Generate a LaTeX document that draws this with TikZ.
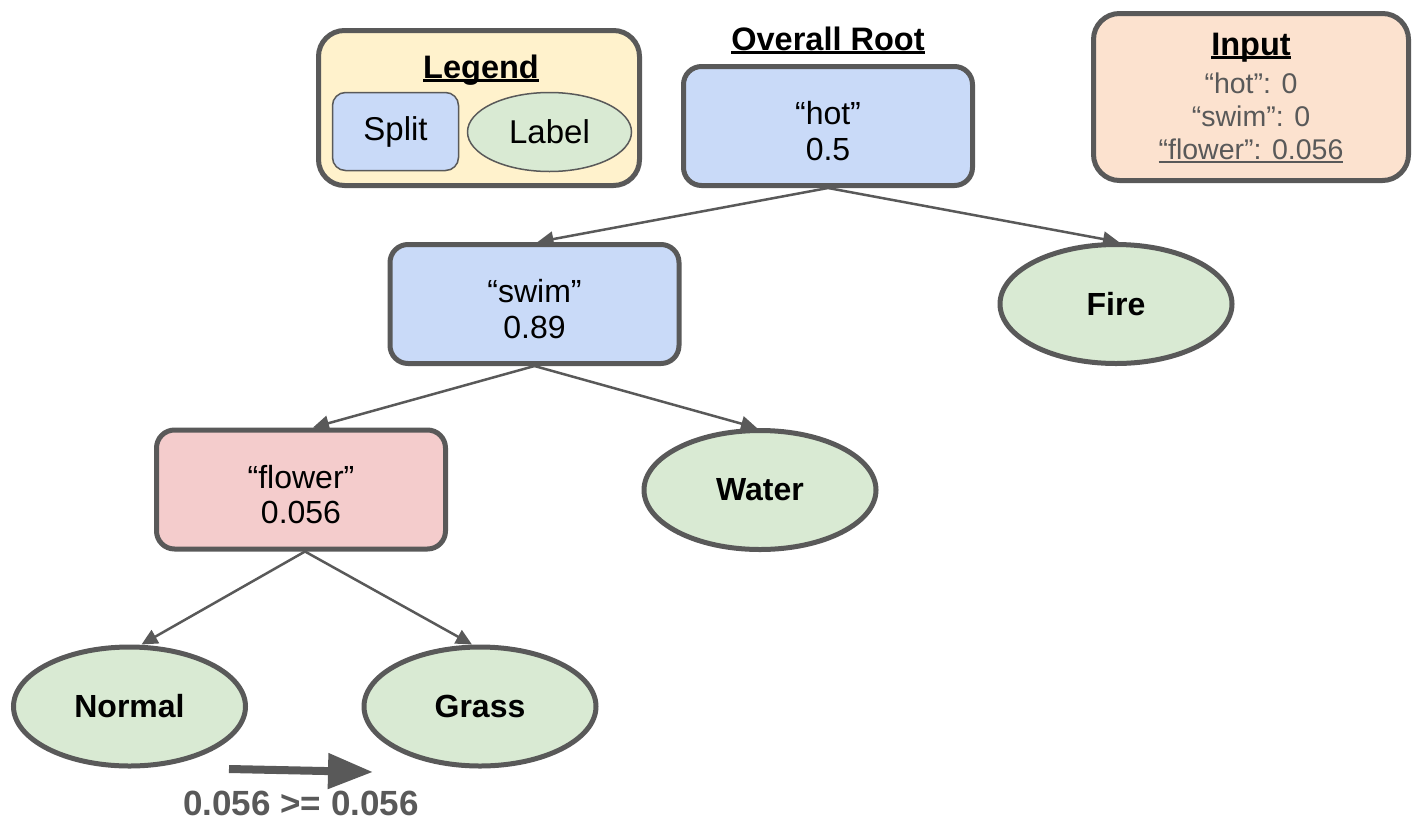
\documentclass[tikz,border=0pt]{standalone}
\usepackage{fontspec}
\setmainfont{Liberation Sans}
\usetikzlibrary{shapes.geometric,arrows.meta}
\definecolor{bd}{HTML}{595959}
\definecolor{splitblue}{HTML}{C9DAF8}
\definecolor{leafgreen}{HTML}{D9EAD3}
\definecolor{redfill}{HTML}{F4CCCC}
\definecolor{legfill}{HTML}{FFF2CC}
\definecolor{inpfill}{HTML}{FCE2CF}
\newsavebox\myulbox
\newcommand\myul[2][3pt]{\sbox\myulbox{#2}\rlap{\rule[-3.5pt]{\wd\myulbox}{#1}}\usebox\myulbox}
\newcommand\mytstrut{\rule{0pt}{33pt}}
\tikzset{
  edge/.style={draw=bd, line width=2.5pt, -{Triangle[length=16pt,width=15pt]}},
  splitbox/.style={rectangle, rounded corners=18pt, draw=bd, line width=5pt, fill=splitblue,
    minimum width=289pt, minimum height=119pt, inner sep=0pt, align=center,
    font=\fontsize{32}{35.5}\selectfont},
  leaf/.style={ellipse, draw=bd, line width=5pt, fill=leafgreen, minimum width=232pt,
    minimum height=119pt, inner sep=0pt, font=\fontsize{32}{35}\selectfont\bfseries},
  infobox/.style={rectangle, rounded corners=26pt, draw=bd, line width=5pt, inner sep=0pt},
  title/.style={anchor=base, inner sep=0pt, font=\fontsize{32.5}{36}\selectfont\bfseries},
  inptext/.style={anchor=base, inner sep=0pt, text=bd, font=\fontsize{28.5}{32}\selectfont},
}
\begin{document}
\begin{tikzpicture}[x=1pt,y=-1pt]
\useasboundingbox (0,0) rectangle (1419,825);
% legend
\node[infobox, fill=legfill, minimum width=321pt, minimum height=155pt] (legend) at (479,108) {};
\node[title] (legendtitle) at (481,78) {\myul{Legend}};
\node[rectangle, rounded corners=13pt, draw=bd, line width=1.5pt, fill=splitblue,
  minimum width=126pt, minimum height=78pt, inner sep=0pt, font=\fontsize{33}{36}\selectfont]
  (legsplit) at (395.5,131.5) {Split};
\node[ellipse, draw=bd, line width=1.5pt, fill=leafgreen, minimum width=164pt,
  minimum height=79pt, inner sep=0pt, font=\fontsize{33}{36}\selectfont]
  (leglabel) at (549.5,132) {Label};
% input
\node[infobox, fill=inpfill, minimum width=315pt, minimum height=167pt] (input) at (1251,97) {};
\node[title] (inputtitle) at (1251,55) {\myul{Input}};
\node[inptext] (in1) at (1251,93) {“hot”: 0};
\node[inptext] (in2) at (1251,126) {“swim”: 0};
\node[inptext] (in3) at (1251,159) {\myul[2pt]{“flower”: 0.056}};
% tree
\node[title] (roottitle) at (828,50) {\myul{Overall Root}};
\node[splitbox] (root) at (828,126) {\mytstrut“hot”\\0.5};
\node[splitbox] (swim) at (534.5,304) {\mytstrut“swim”\\0.89};
\node[splitbox, fill=redfill] (flower) at (301,489.5) {\mytstrut“flower”\\0.056};
\node[leaf] (fire) at (1116,304) {Fire};
\node[leaf] (water) at (760,490) {Water};
\node[leaf] (normal) at (129.5,706.5) {Normal};
\node[leaf] (grass) at (480,706.5) {Grass};
\draw[edge] (root.south) -- ([xshift=3pt]swim.north);
\draw[edge] (root.south) -- ([xshift=3pt]fire.north);
\draw[edge] (swim.south) -- ([xshift=12pt]flower.north);
\draw[edge] (swim.south) -- ([xshift=-3pt]water.north);
\draw[edge] ([xshift=4pt]flower.south) -- ([xshift=12pt]normal.north);
\draw[edge] ([xshift=4pt]flower.south) -- ([xshift=-8pt]grass.north);
% comparison arrow
\coordinate (cmpa) at (229,769);
\coordinate (cmpb) at (373,772);
\draw[draw=bd, line width=8pt, -{Triangle[length=45pt,width=34pt]}] (cmpa) -- (cmpb);
\node[anchor=base, inner sep=0pt, text=bd, font=\fontsize{35}{38}\selectfont\bfseries]
  (cmplabel) at (301,815) {0.056 >= 0.056};
\end{tikzpicture}
\end{document}
